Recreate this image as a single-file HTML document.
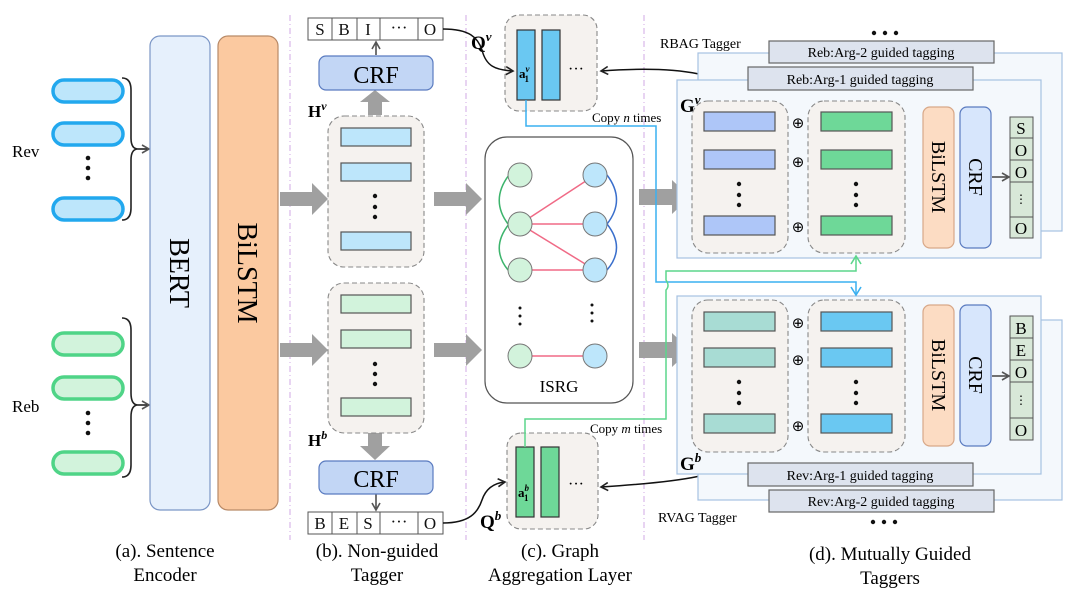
<!DOCTYPE html>
<html><head><meta charset="utf-8"><style>
html,body{margin:0;padding:0;background:#fff;}
svg{display:block;font-family:"Liberation Serif",serif;}
</style></head><body>
<svg width="1080" height="598" viewBox="0 0 1080 598" xmlns="http://www.w3.org/2000/svg">
<defs>
<marker id="ah" markerWidth="10" markerHeight="10" refX="8" refY="5" orient="auto" markerUnits="userSpaceOnUse"><path d="M1,1 L8,5 L1,9" fill="none" stroke="#222" stroke-width="1.6"/></marker>
<marker id="ahg" markerWidth="10" markerHeight="10" refX="8" refY="5" orient="auto" markerUnits="userSpaceOnUse"><path d="M1,1 L8,5 L1,9" fill="none" stroke="#555" stroke-width="1.6"/></marker>
<marker id="ahb" markerWidth="12" markerHeight="12" refX="9" refY="6" orient="auto" markerUnits="userSpaceOnUse"><path d="M1,1 L9,6 L1,11" fill="none" stroke="#3ab0f0" stroke-width="1.6"/></marker>
<marker id="ahgr" markerWidth="12" markerHeight="12" refX="9" refY="6" orient="auto" markerUnits="userSpaceOnUse"><path d="M1,1 L9,6 L1,11" fill="none" stroke="#5cd68c" stroke-width="1.6"/></marker>
</defs>

<g stroke="#d8b8e8" stroke-width="1.2" stroke-dasharray="6,3,1,3">
<line x1="290" y1="15" x2="290" y2="540"/><line x1="466" y1="15" x2="466" y2="540"/><line x1="644" y1="15" x2="644" y2="540"/>
</g>

<text x="12" y="157" font-size="17">Rev</text>
<text x="12" y="412" font-size="17">Reb</text>
<g fill="#bde6fb" stroke="#22a8ee" stroke-width="3.5">
<rect x="53" y="80" width="70" height="22" rx="11"/><rect x="53" y="123" width="70" height="22" rx="11"/><rect x="53" y="198" width="70" height="22" rx="11"/>
</g>
<g fill="#d2f3dc" stroke="#4fd487" stroke-width="3.5">
<rect x="53" y="333" width="70" height="22" rx="11"/><rect x="53" y="377" width="70" height="22" rx="11"/><rect x="53" y="452" width="70" height="22" rx="11"/>
</g>
<g fill="#111"><circle cx="88" cy="158" r="2.3"/><circle cx="88" cy="168" r="2.3"/><circle cx="88" cy="178" r="2.3"/>
<circle cx="88" cy="413" r="2.3"/><circle cx="88" cy="423" r="2.3"/><circle cx="88" cy="433" r="2.3"/></g>
<g fill="none" stroke="#222" stroke-width="1.6">
<path d="M122,78 Q131,78 131,90 L131,138 Q131,149 138,149 Q131,149 131,160 L131,208 Q131,220 122,220"/>
<path d="M122,318 Q131,318 131,330 L131,393 Q131,405 138,405 Q131,405 131,417 L131,465 Q131,477 122,477"/>
<line x1="138" y1="149" x2="149" y2="149" marker-end="url(#ahg)"/>
<line x1="138" y1="405" x2="149" y2="405" marker-end="url(#ahg)"/>
</g>
<rect x="150" y="36" width="60" height="474" rx="10" fill="#e6f0fc" stroke="#7b96c6" stroke-width="1.2"/>
<rect x="218" y="36" width="60" height="474" rx="10" fill="#fbc9a0" stroke="#b88a68" stroke-width="1.2"/>
<text transform="translate(170,273) rotate(90)" text-anchor="middle" font-size="28">BERT</text>
<text transform="translate(238,273) rotate(90)" text-anchor="middle" font-size="28">BiLSTM</text>

<g fill="#a0a0a0">
<path d="M280,192 L312,192 L312,183 L328,199 L312,215 L312,206 L280,206Z"/>
<path d="M280,343 L312,343 L312,334 L328,350 L312,366 L312,357 L280,357Z"/>
<path d="M434,192 L466,192 L466,183 L482,199 L466,215 L466,206 L434,206Z"/>
<path d="M434,343 L466,343 L466,334 L482,350 L466,366 L466,357 L434,357Z"/>
<path d="M639,189 L672,189 L672,180 L690,197 L672,214 L672,205 L639,205Z"/>
<path d="M639,342 L672,342 L672,333 L690,350 L672,367 L672,358 L639,358Z"/>
<path d="M368,115 L368,102 L360,102 L375,90 L390,102 L382,102 L382,115Z"/>
<path d="M368,433 L368,446 L360,446 L375,460 L390,446 L382,446 L382,433Z"/>
<path d="M906,169 L914,169 L914,163 L922,175 L914,187 L914,181 L906,181Z"/>
<path d="M906,369 L914,369 L914,363 L922,375 L914,387 L914,381 L906,381Z"/>
</g>

<g font-size="17" text-anchor="middle" fill="#111" stroke="#555" stroke-width="1">
<rect x="308" y="18" width="135" height="22" fill="#fff"/>
<line x1="332" y1="18" x2="332" y2="40"/><line x1="357" y1="18" x2="357" y2="40"/><line x1="380" y1="18" x2="380" y2="40"/><line x1="418" y1="18" x2="418" y2="40"/>
<rect x="308" y="512" width="135" height="22" fill="#fff"/>
<line x1="332" y1="512" x2="332" y2="534"/><line x1="357" y1="512" x2="357" y2="534"/><line x1="380" y1="512" x2="380" y2="534"/><line x1="418" y1="512" x2="418" y2="534"/>
</g>
<g font-size="17" text-anchor="middle" fill="#111">
<text x="320" y="35">S</text><text x="344" y="35">B</text><text x="368" y="35">I</text><text x="399" y="33">···</text><text x="430" y="35">O</text>
<text x="320" y="529">B</text><text x="344" y="529">E</text><text x="368" y="529">S</text><text x="399" y="527">···</text><text x="430" y="529">O</text>
</g>
<line x1="376" y1="55" x2="376" y2="42" stroke="#444" stroke-width="1.5" marker-end="url(#ahg)"/>
<line x1="376" y1="494" x2="376" y2="510" stroke="#444" stroke-width="1.5" marker-end="url(#ahg)"/>
<rect x="319" y="56" width="114" height="34" rx="7" fill="#c2d6f5" stroke="#5a7bc0" stroke-width="1.2"/>
<rect x="319" y="461" width="114" height="33" rx="7" fill="#c2d6f5" stroke="#5a7bc0" stroke-width="1.2"/>
<text x="376" y="83" text-anchor="middle" font-size="24">CRF</text>
<text x="376" y="487" text-anchor="middle" font-size="24">CRF</text>
<text x="308" y="117" font-size="17" font-weight="bold">H<tspan font-style="italic" font-size="12" dy="-7">v</tspan></text>
<text x="308" y="446" font-size="17" font-weight="bold">H<tspan font-style="italic" font-size="12" dy="-7">b</tspan></text>
<g fill="#f5f2ef" stroke="#888" stroke-width="1.1" stroke-dasharray="5,3">
<rect x="328" y="116" width="96" height="151" rx="16"/>
<rect x="328" y="283" width="96" height="150" rx="16"/>
</g>
<g stroke="#555" stroke-width="1.2">
<g fill="#bde6fb"><rect x="341" y="128" width="70" height="18"/><rect x="341" y="163" width="70" height="18"/><rect x="341" y="232" width="70" height="18"/></g>
<g fill="#d2f3dc"><rect x="341" y="295" width="70" height="18"/><rect x="341" y="330" width="70" height="18"/><rect x="341" y="398" width="70" height="18"/></g>
</g>
<g fill="#111"><circle cx="375" cy="196" r="2.2"/><circle cx="375" cy="207" r="2.2"/><circle cx="375" cy="217" r="2.2"/>
<circle cx="375" cy="364" r="2.2"/><circle cx="375" cy="374" r="2.2"/><circle cx="375" cy="384" r="2.2"/></g>

<g fill="#f5f2ef" stroke="#888" stroke-width="1.1" stroke-dasharray="5,3">
<rect x="505" y="15" width="92" height="96" rx="14"/>
<rect x="507" y="433" width="91" height="96" rx="14"/>
</g>
<g stroke="#333" stroke-width="1.2">
<rect x="517" y="30" width="18" height="70" fill="#6ac8f2"/><rect x="542" y="30" width="18" height="70" fill="#6ac8f2"/>
<rect x="516" y="447" width="18" height="70" fill="#6ed898"/><rect x="541" y="447" width="18" height="70" fill="#6ed898"/>
</g>
<text x="519" y="78" font-size="13" font-weight="bold">a<tspan font-size="9" dy="-6" font-style="italic">v</tspan><tspan font-size="9" dx="-5" dy="10">1</tspan></text>
<text x="518" y="497" font-size="13" font-weight="bold">a<tspan font-size="9" dy="-6" font-style="italic">b</tspan><tspan font-size="9" dx="-5" dy="10">1</tspan></text>
<text x="568" y="74" font-size="16">···</text>
<text x="568" y="489" font-size="16">···</text>
<text x="471" y="49" font-size="19" font-weight="bold">Q<tspan font-style="italic" font-size="13" dy="-8">v</tspan></text>
<text x="480" y="528" font-size="19" font-weight="bold">Q<tspan font-style="italic" font-size="13" dy="-8">b</tspan></text>
<g fill="none" stroke="#111" stroke-width="1.5">
<path d="M443,29 C470,29 478,38 482,50 C486,66 495,70 513,71" marker-end="url(#ah)"/>
<path d="M443,523 C470,523 478,512 482,500 C486,488 495,483 505,482" marker-end="url(#ah)"/>
<path d="M740,100 C735,75 680,65 601,71" marker-end="url(#ah)"/>
<path d="M740,453 C735,475 680,482 601,487" marker-end="url(#ah)"/>
</g>
<text x="592" y="122" font-size="13">Copy <tspan font-style="italic">n</tspan> times</text>
<text x="590" y="433" font-size="13">Copy <tspan font-style="italic">m</tspan> times</text>

<rect x="485" y="137" width="148" height="266" rx="22" fill="#fff" stroke="#555" stroke-width="1.2"/>
<g fill="none" stroke-width="1.5">
<path d="M509,175 Q490,200 508,224" stroke="#3cb46c"/><path d="M509,224 Q490,248 508,270" stroke="#3cb46c"/>
<path d="M607,175 Q626,200 607,224" stroke="#3a6fcc"/><path d="M607,224 Q626,248 607,270" stroke="#3a6fcc"/>
<g stroke="#f06a86"><line x1="520" y1="224" x2="595" y2="175"/><line x1="520" y1="224" x2="595" y2="224"/><line x1="520" y1="224" x2="595" y2="270"/><line x1="520" y1="270" x2="595" y2="270"/><line x1="520" y1="356" x2="595" y2="356"/></g>
</g>
<g stroke="#777" stroke-width="1">
<g fill="#d2f3dc"><circle cx="520" cy="175" r="12"/><circle cx="520" cy="224" r="12"/><circle cx="520" cy="270" r="12"/><circle cx="520" cy="356" r="12"/></g>
<g fill="#bde6fb"><circle cx="595" cy="175" r="12"/><circle cx="595" cy="224" r="12"/><circle cx="595" cy="270" r="12"/><circle cx="595" cy="356" r="12"/></g>
</g>
<g fill="#111"><circle cx="520" cy="308" r="1.5"/><circle cx="520" cy="316" r="1.5"/><circle cx="520" cy="324" r="1.5"/>
<circle cx="592" cy="305" r="1.5"/><circle cx="592" cy="313" r="1.5"/><circle cx="592" cy="321" r="1.5"/></g>
<text x="559" y="392" text-anchor="middle" font-size="17">ISRG</text>

<g fill="#f4f8fc" stroke="#a6c2e2" stroke-width="1.2">
<rect x="698" y="53" width="364" height="178"/>
<rect x="677" y="80" width="364" height="178"/>
<rect x="698" y="320" width="364" height="180"/>
<rect x="677" y="296" width="364" height="178"/>
</g>
<g fill="#dde3ee" stroke="#666" stroke-width="1.2">
<rect x="769" y="41" width="225" height="22"/><rect x="748" y="67" width="225" height="23"/>
<rect x="748" y="463" width="225" height="23"/><rect x="769" y="490" width="225" height="22"/>
</g>
<g font-size="14" text-anchor="middle">
<text x="881" y="57">Reb:Arg-2 guided tagging</text><text x="860" y="84">Reb:Arg-1 guided tagging</text>
<text x="860" y="480">Rev:Arg-1 guided tagging</text><text x="881" y="506">Rev:Arg-2 guided tagging</text>
</g>
<text x="660" y="48" font-size="14">RBAG Tagger</text>
<text x="658" y="522" font-size="14">RVAG Tagger</text>
<g fill="#111"><circle cx="874" cy="33" r="2.2"/><circle cx="885" cy="33" r="2.2"/><circle cx="896" cy="33" r="2.2"/>
<circle cx="873" cy="522" r="2.2"/><circle cx="884" cy="522" r="2.2"/><circle cx="895" cy="522" r="2.2"/></g>
<text x="680" y="112" font-size="19" font-weight="bold">G<tspan font-style="italic" font-size="13" dy="-8">v</tspan></text>
<text x="680" y="470" font-size="19" font-weight="bold">G<tspan font-style="italic" font-size="13" dy="-8">b</tspan></text>
<g fill="#f5f2ef" stroke="#888" stroke-width="1.1" stroke-dasharray="5,3">
<rect x="692" y="101" width="96" height="152" rx="16"/><rect x="808" y="101" width="97" height="152" rx="16"/>
<rect x="692" y="300" width="96" height="152" rx="16"/><rect x="808" y="300" width="97" height="152" rx="16"/>
</g>
<g stroke="#555" stroke-width="1.2">
<g fill="#aec6f8"><rect x="704" y="112" width="71" height="19"/><rect x="704" y="150" width="71" height="19"/><rect x="704" y="216" width="71" height="19"/></g>
<g fill="#6ed898"><rect x="821" y="112" width="71" height="19"/><rect x="821" y="150" width="71" height="19"/><rect x="821" y="216" width="71" height="19"/></g>
<g fill="#a8dcd4"><rect x="704" y="312" width="71" height="19"/><rect x="704" y="348" width="71" height="19"/><rect x="704" y="414" width="71" height="19"/></g>
<g fill="#6ac8f2"><rect x="821" y="312" width="71" height="19"/><rect x="821" y="348" width="71" height="19"/><rect x="821" y="414" width="71" height="19"/></g>
</g>
<g fill="#111">
<circle cx="739" cy="184" r="2.2"/><circle cx="739" cy="195" r="2.2"/><circle cx="739" cy="205" r="2.2"/>
<circle cx="856" cy="184" r="2.2"/><circle cx="856" cy="195" r="2.2"/><circle cx="856" cy="205" r="2.2"/>
<circle cx="739" cy="382" r="2.2"/><circle cx="739" cy="393" r="2.2"/><circle cx="739" cy="403" r="2.2"/>
<circle cx="856" cy="382" r="2.2"/><circle cx="856" cy="393" r="2.2"/><circle cx="856" cy="403" r="2.2"/>
</g>
<g font-size="15" text-anchor="middle" font-family="DejaVu Sans,sans-serif">
<text x="798" y="128">⊕</text><text x="798" y="167">⊕</text><text x="798" y="232">⊕</text>
<text x="798" y="328">⊕</text><text x="798" y="365">⊕</text><text x="798" y="431">⊕</text>
</g>
<g stroke-width="1.2">
<rect x="923" y="107" width="31" height="141" rx="7" fill="#fcdcc3" stroke="#d8a888"/>
<rect x="960" y="107" width="31" height="141" rx="7" fill="#d7e6fc" stroke="#5a7bc0"/>
<rect x="923" y="305" width="31" height="141" rx="7" fill="#fcdcc3" stroke="#d8a888"/>
<rect x="960" y="305" width="31" height="141" rx="7" fill="#d7e6fc" stroke="#5a7bc0"/>
</g>
<g font-size="20" text-anchor="middle">
<text transform="translate(932,177) rotate(90)">BiLSTM</text>
<text transform="translate(969,177) rotate(90)">CRF</text>
<text transform="translate(932,375) rotate(90)">BiLSTM</text>
<text transform="translate(969,375) rotate(90)">CRF</text>
</g>
<line x1="992" y1="177" x2="1009" y2="177" stroke="#444" stroke-width="1.5" marker-end="url(#ahg)"/>
<line x1="992" y1="376" x2="1009" y2="376" stroke="#444" stroke-width="1.5" marker-end="url(#ahg)"/>
<g fill="#d8e8d8" stroke="#555" stroke-width="1">
<rect x="1010" y="117" width="23" height="121"/>
<line x1="1010" y1="138" x2="1033" y2="138"/><line x1="1010" y1="160" x2="1033" y2="160"/><line x1="1010" y1="182" x2="1033" y2="182"/><line x1="1010" y1="217" x2="1033" y2="217"/>
<rect x="1010" y="316" width="23" height="124"/>
<line x1="1010" y1="338" x2="1033" y2="338"/><line x1="1010" y1="360" x2="1033" y2="360"/><line x1="1010" y1="382" x2="1033" y2="382"/><line x1="1010" y1="418" x2="1033" y2="418"/>
</g>
<g font-size="17" text-anchor="middle">
<text x="1021" y="134">S</text><text x="1021" y="156">O</text><text x="1021" y="178">O</text><text x="1021" y="203" font-size="12">⋮</text><text x="1021" y="234">O</text>
<text x="1021" y="334">B</text><text x="1021" y="356">E</text><text x="1021" y="378">O</text><text x="1021" y="404" font-size="12">⋮</text><text x="1021" y="436">O</text>
</g>

<path d="M526,100 L526,126 L656,126 L656,282 L856,282 L856,295" fill="none" stroke="#3ab0f0" stroke-width="1.5" marker-end="url(#ahb)"/>
<path d="M525,447 L525,419 L666,419 L666,290 Q670,286 666,280 L666,271 L856,271 L856,256" fill="none" stroke="#5cd68c" stroke-width="1.5" marker-end="url(#ahgr)"/>

<g font-size="19" text-anchor="middle">
<text x="165" y="557">(a). Sentence</text><text x="165" y="581">Encoder</text>
<text x="377" y="557">(b). Non-guided</text><text x="377" y="581">Tagger</text>
<text x="560" y="557">(c). Graph</text><text x="560" y="581">Aggregation Layer</text>
<text x="890" y="560">(d). Mutually Guided</text><text x="890" y="584">Taggers</text>
</g>
</svg>
</body></html>
